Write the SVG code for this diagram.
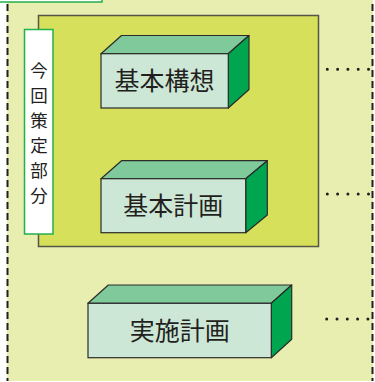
<svg xmlns="http://www.w3.org/2000/svg" width="375" height="382" viewBox="0 0 375 382">
<style>
.top{fill:#80c99a;stroke:#2b2b2b;stroke-width:1.2;stroke-linejoin:round}
.front{fill:#cde7d6;stroke:#2b2b2b;stroke-width:1.2}
.side{fill:#00a54f;stroke:#2b2b2b;stroke-width:1.2;stroke-linejoin:round}
.lbl{font-family:"Noto Sans CJK JP","Noto Sans CJK SC",sans-serif;font-size:25px;fill:#231f20;text-anchor:middle}
.vt{font-family:"Noto Sans CJK JP","Noto Sans CJK SC",sans-serif;font-size:17.5px;fill:#231f20;text-anchor:middle}
.dots{stroke:#231f20;stroke-width:3;stroke-linecap:round;stroke-dasharray:0 10.3;fill:none}
</style>
<rect x="0" y="0" width="375" height="382" fill="#ffffff"/>
<rect id="bg" x="7" y="0" width="366" height="381" fill="#e8eeb0"/>
<g id="borders" fill="none" stroke="#231f20" stroke-width="2" stroke-dasharray="7 4">
<line x1="7.5" y1="4" x2="7.5" y2="381"/>
<line x1="372.5" y1="4" x2="372.5" y2="381"/>
</g>
<rect id="topbox" x="-2" y="-20" width="104" height="22" fill="#ffffff" stroke="#22b04b" stroke-width="1.5"/>
<g id="scope">
<rect x="38.5" y="15.5" width="280" height="231" fill="#d6e05a" stroke="#555548" stroke-width="1.5"/>
</g>
<g id="label">
<rect x="24.5" y="29.5" width="28.5" height="204.5" fill="#ffffff" stroke="#22b04b" stroke-width="1.5"/>
<text class="vt" x="39" y="77">今</text>
<text class="vt" x="39" y="102">回</text>
<text class="vt" x="39" y="127">策</text>
<text class="vt" x="39" y="152">定</text>
<text class="vt" x="39" y="177">部</text>
<text class="vt" x="39" y="202">分</text>
</g>
<g id="node1">
<polygon class="top" points="101,53.7 121.5,35.5 249,35.5 228.3,53.7"/>
<polygon class="side" points="228.3,53.7 249,35.5 249,89.5 228.3,108"/>
<rect class="front" x="101" y="53.7" width="127.3" height="54.3"/>
<text class="lbl" x="164.6" y="90">基本構想</text>
</g>
<g id="node2">
<polygon class="top" points="101,178.7 121.5,160.7 267.3,160.7 245.7,178.7"/>
<polygon class="side" points="245.7,178.7 267.3,160.7 267.3,215 245.7,232.7"/>
<rect class="front" x="101" y="178.7" width="144.7" height="54"/>
<text class="lbl" x="173.3" y="214.5">基本計画</text>
</g>
<g id="node3">
<polygon class="top" points="88,303.3 108.3,285 291.7,285 271.3,303.3"/>
<polygon class="side" points="271.3,303.3 291.7,285 291.7,339.3 271.3,357.7"/>
<rect class="front" x="88" y="303.3" width="183.3" height="54.4"/>
<text class="lbl" x="179.7" y="339.5">実施計画</text>
</g>
<g id="connectors">
<line class="dots" x1="327.3" y1="69.3" x2="369" y2="69.3"/>
<line class="dots" x1="327.3" y1="194" x2="369" y2="194"/>
<line class="dots" x1="326.7" y1="319" x2="369" y2="319"/>
</g>
</svg>
